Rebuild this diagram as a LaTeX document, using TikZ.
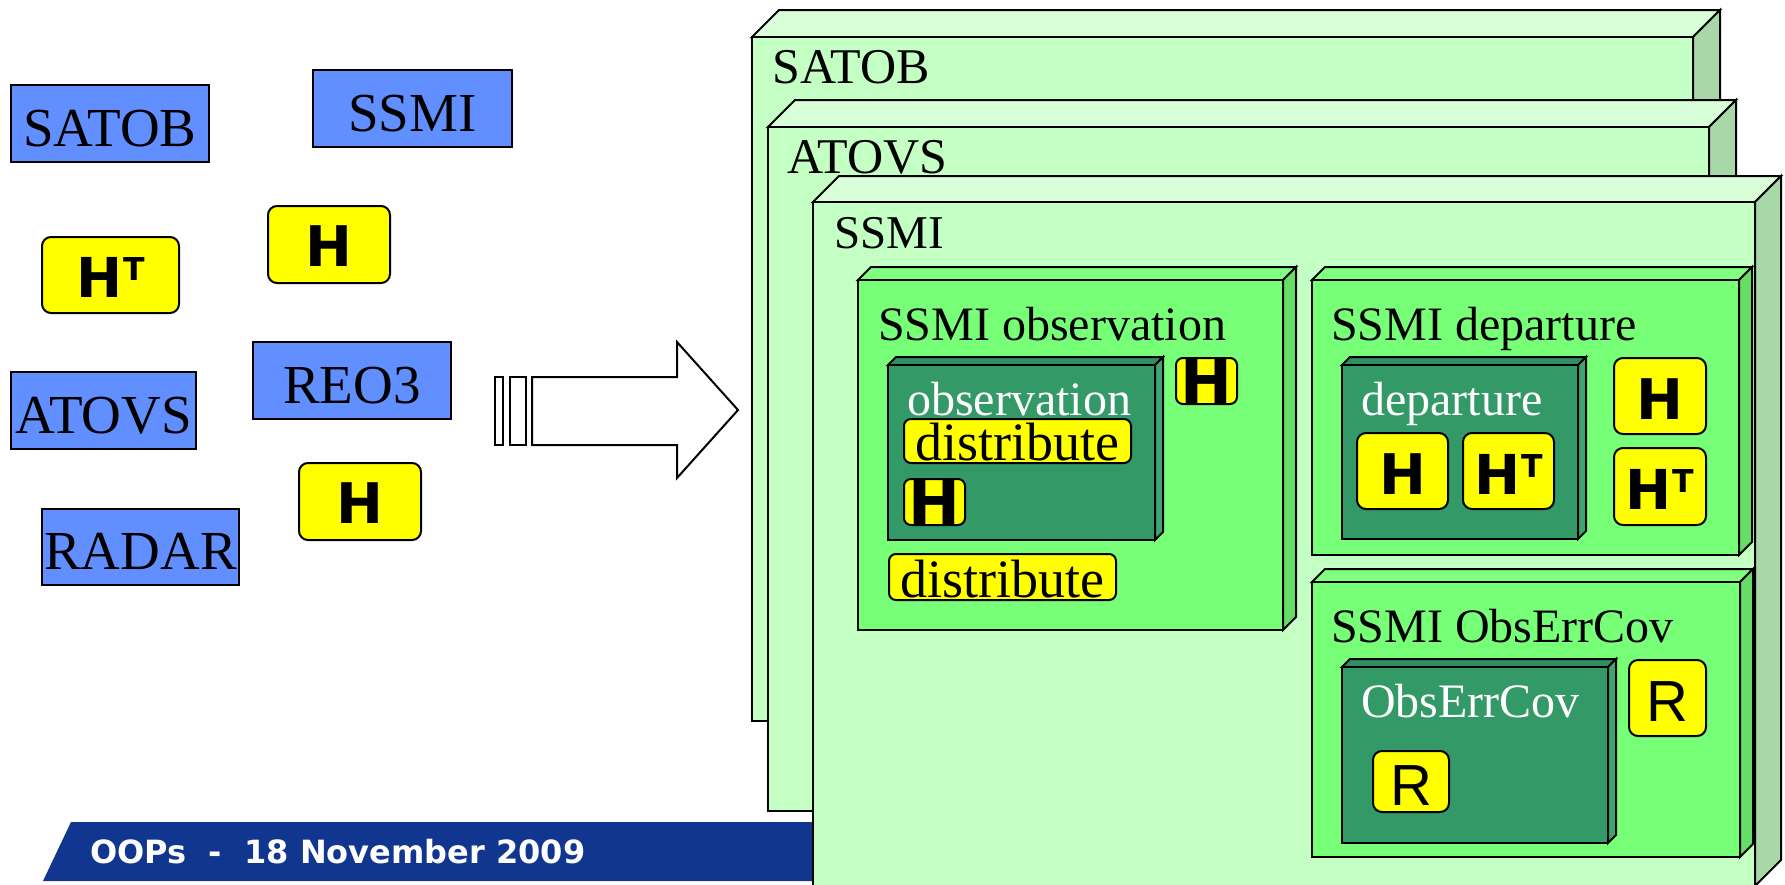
\documentclass[tikz,border=0pt]{standalone}
\usepackage{fontspec}
\setmainfont{Liberation Serif}
\newfontfamily\dvsans{DejaVu Sans}
\newfontfamily\arsans{Liberation Sans}
\usetikzlibrary{fit}

\definecolor{obsblue}{RGB}{98,143,255}
\definecolor{tagyellow}{RGB}{255,255,0}
\definecolor{boxfront}{RGB}{196,255,196}
\definecolor{boxtop}{RGB}{216,255,216}
\definecolor{boxside}{RGB}{168,216,168}
\definecolor{modfront}{RGB}{120,255,120}
\definecolor{modtop}{RGB}{128,255,128}
\definecolor{modside}{RGB}{102,221,102}
\definecolor{darkfront}{RGB}{51,153,102}
\definecolor{darktop}{RGB}{48,142,95}
\definecolor{darkside}{RGB}{62,165,112}
\definecolor{footblue}{RGB}{16,54,143}

% a box with a visible top face and right face; (x1,y1)-(x2,y2) is the front face, #5 the depth
\newcommand\slab[8]{%
  \filldraw[edge,fill=#7] (#1,#2) -- (#1+#5,#2-#5) -- (#3+#5,#2-#5) -- (#3,#2) -- cycle;
  \filldraw[edge,fill=#8] (#3,#2) -- (#3+#5,#2-#5) -- (#3+#5,#4-#5) -- (#3,#4) -- cycle;
  \filldraw[edge,fill=#6] (#1,#2) rectangle (#3,#4);
}

\newcommand\Hsym{{\dvsans\bfseries\fontsize{56}{56}\selectfont H}}
\newcommand\Hbig{{\dvsans\bfseries\fontsize{62}{62}\selectfont H}}
\newcommand\HTsym{{\dvsans\bfseries\fontsize{55}{55}\selectfont H\kern1pt\raisebox{17pt}{\fontsize{31.5}{31.5}\selectfont T}}}
\newcommand\Rsym{{\arsans\fontsize{58}{58}\selectfont R}}

\tikzset{
  edge/.style={draw=black,line width=2pt,line join=miter},
  obsbox/.style={edge,fill=obsblue,inner sep=0pt},
  tag/.style={edge,fill=tagyellow,rounded corners=9pt,inner sep=0pt},
  smalltag/.style={edge,fill=tagyellow,rounded corners=7pt,inner sep=0pt},
  bigname/.style={font=\fontsize{55}{55}\selectfont,inner sep=0pt,anchor=base},
  settitle/.style={font=\fontsize{50}{50}\selectfont,inner sep=0pt,anchor=base west},
  title/.style={font=\fontsize{48}{48}\selectfont,inner sep=0pt,anchor=base west},
  whitetitle/.style={title,text=white},
  dist/.style={font=\fontsize{54}{54}\selectfont,inner sep=0pt,anchor=base west},
  glyph/.style={inner sep=0pt},
  hollow/.style={edge,fill=white}
}

\begin{document}
\begin{tikzpicture}[x=1pt,y=-1pt]
\useasboundingbox (0,0) rectangle (1785,884);

% ---- observation types on the left ----
\node[obsbox,fit={(11,85) (209,162)}] (satob) {};
\node[bigname] (satobtxt) at ([yshift=17pt]satob.south) {SATOB};
\node[obsbox,fit={(313,70) (512,147)}] (ssmi) {};
\node[bigname] (ssmitxt) at ([yshift=17pt]ssmi.south) {SSMI};
\node[obsbox,fit={(11,372) (196,449)}] (atovs) {};
\node[bigname] (atovstxt) at ([yshift=17pt]atovs.south) {ATOVS};
\node[obsbox,fit={(253,342) (451,419)}] (reo) {};
\node[bigname] (reotxt) at ([yshift=17pt]reo.south) {REO3};
\node[obsbox,fit={(42,509) (239,585)}] (radar) {};
\node[bigname] (radartxt) at ([yshift=17pt]radar.south) {RADAR};

\node[tag,fit={(42,237) (179,313)}] (htl) {};
\node[glyph] (htltxt) at ([yshift=-2pt]htl.center) {\HTsym};
\node[tag,fit={(268,206) (390,283)}] (hup) {};
\node[glyph] (huptxt) at ([yshift=-2pt]hup.center) {\Hsym};
\node[tag,fit={(299,463) (421,540)}] (hlow) {};
\node[glyph] (hlowtxt) at ([yshift=-2pt]hlow.center) {\Hsym};

% ---- block arrow ----
\filldraw[hollow] (495,377) rectangle (503,445);
\filldraw[hollow] (510,377) rectangle (526,445);
\filldraw[hollow] (532,377) -- (677,377) -- (677,342) -- (738,410) -- (677,478) -- (677,445) -- (532,445) -- cycle;

% ---- footer band ----
\fill[footblue] (71,822) -- (815,822) -- (815,881) -- (43,881) -- cycle;
\node[inner sep=0pt,anchor=base west,text=white,font={\dvsans\bfseries\fontsize{32}{32}\selectfont}] (foot) at (90,863) {OOPs\ \ -\ \ 18 November 2009};

% ---- stacked observation sets ----
\slab{752}{37}{1693}{721}{27}{boxfront}{boxtop}{boxside}
\node[settitle] (setA) at (772,83) {SATOB};
\slab{768}{127}{1709}{811}{27}{boxfront}{boxtop}{boxside}
\node[settitle] (setB) at (787,173) {ATOVS};
\slab{813}{202}{1755}{886}{26}{boxfront}{boxtop}{boxside}
\node[title,font=\fontsize{47}{47}\selectfont] (setC) at (834,248) {SSMI};

% observation object
\slab{858}{280}{1283}{630}{13}{modfront}{modtop}{modside}
\node[title] (obsT) at (878,340) {SSMI observation};
\slab{888}{365}{1155}{540}{8}{darkfront}{darktop}{darkside}
\node[whitetitle] (obsI) at (907,415) {observation};
\node[smalltag,fit={(904,419) (1131,463)}] (dist1) {};
\node[dist] (dist1t) at (915,460) {distribute};
\node[smalltag,fit={(904,479) (965,525)}] (hobs1) {};
\node[glyph] (hobs1t) at (hobs1.center) {\Hbig};
\node[smalltag,fit={(1176,358) (1237,404)}] (hobs2) {};
\node[glyph] (hobs2t) at (hobs2.center) {\Hbig};
\node[smalltag,fit={(889,554) (1116,600)}] (dist2) {};
\node[dist] (dist2t) at (900,597) {distribute};

% departure object
\slab{1312}{280}{1739}{555}{13}{modfront}{modtop}{modside}
\node[title] (depT) at (1331,340) {SSMI departure};
\slab{1342}{365}{1578}{539}{8}{darkfront}{darktop}{darkside}
\node[whitetitle] (depI) at (1361,415) {departure};
\node[tag,fit={(1357,433) (1448,509)}] (hdep1) {};
\node[glyph] (hdep1t) at ([yshift=-3pt]hdep1.center) {\Hsym};
\node[tag,fit={(1463,433) (1554,509)}] (htdep1) {};
\node[glyph] (htdep1t) at ([yshift=-3pt]htdep1.center) {\HTsym};
\node[tag,fit={(1614,358) (1706,434)}] (hdep2) {};
\node[glyph] (hdep2t) at ([yshift=-3pt]hdep2.center) {\Hsym};
\node[tag,fit={(1614,448) (1706,525)}] (htdep2) {};
\node[glyph] (htdep2t) at ([yshift=-3pt]htdep2.center) {\HTsym};

% observation error covariance object
\slab{1312}{582}{1740}{857}{13}{modfront}{modtop}{modside}
\node[title] (covT) at (1331,642) {SSMI ObsErrCov};
\slab{1342}{667}{1608}{843}{8}{darkfront}{darktop}{darkside}
\node[whitetitle] (covI) at (1361,717) {ObsErrCov};
\node[tag,fit={(1629,660) (1706,736)}] (rcov1) {};
\node[glyph] (rcov1t) at ([yshift=-4pt]rcov1.center) {\Rsym};
\node[tag,fit={(1373,751) (1449,812)}] (rcov2) {};
\node[glyph] (rcov2t) at ([yshift=-4pt]rcov2.center) {\Rsym};
\end{tikzpicture}
\end{document}
